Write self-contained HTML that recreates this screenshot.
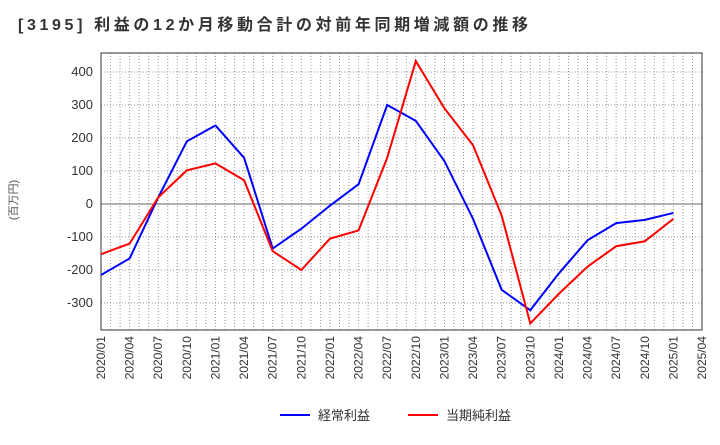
<!DOCTYPE html>
<html><head><meta charset="utf-8"><style>
body{margin:0;background:#fff;font-family:"Liberation Sans","Noto Sans CJK JP",sans-serif}
</style></head><body>
<svg id="c" width="720" height="440" xmlns="http://www.w3.org/2000/svg">
<text x="18" y="30" font-size="16" font-weight="bold" fill="#333" textLength="510" lengthAdjust="spacing">[3195]  利益の12か月移動合計の対前年同期増減額の推移</text>
<text transform="translate(17,200) rotate(-90)" font-size="11" fill="#555" text-anchor="middle">(百万円)</text>
<g id="grid"></g><g id="axes"></g><g id="series"></g>
<g>
<line x1="280" y1="415" x2="310" y2="415" stroke="#0000ff" stroke-width="2"/>
<text x="318" y="420" font-size="13" fill="#333">経常利益</text>
<line x1="408" y1="415" x2="438" y2="415" stroke="#ff0000" stroke-width="2"/>
<text x="446" y="420" font-size="13" fill="#333">当期純利益</text>
</g>
</svg>
<script>
const categories=["2020/01","2020/04","2020/07","2020/10","2021/01","2021/04","2021/07","2021/10","2022/01","2022/04","2022/07","2022/10","2023/01","2023/04","2023/07","2023/10","2024/01","2024/04","2024/07","2024/10","2025/01"];
const xTickLabels=["2020/01","2020/04","2020/07","2020/10","2021/01","2021/04","2021/07","2021/10","2022/01","2022/04","2022/07","2022/10","2023/01","2023/04","2023/07","2023/10","2024/01","2024/04","2024/07","2024/10","2025/01","2025/04"];
const yTicks=[400,300,200,100,0,-100,-200,-300];
const ordinary=[-215,-165,20,190,238,140,-135,-75,-5,60,300,252,130,-45,-260,-322,-210,-110,-58,-48,-27];
const net=[-152,-120,20,102,123,72,-143,-200,-105,-80,140,433,290,178,-35,-362,-272,-190,-128,-113,-45];
const NS="http://www.w3.org/2000/svg";
const L=101,R=702,T=53,B=330;
const x=i=>L+i*(R-L)/21;
const y=v=>204-v*0.33;
function mk(t,a,p){const e=document.createElementNS(NS,t);for(const k in a)e.setAttribute(k,a[k]);p.appendChild(e);return e;}
const g=document.getElementById('grid'),ax=document.getElementById('axes'),s=document.getElementById('series');
for(let m=1;m<63;m++){const xx=L+m*(R-L)/63;const ln=mk('line',{x1:xx,x2:xx,y1:T,y2:B,stroke:'#999','stroke-dasharray':'1,2','stroke-width':1},g);

}
yTicks.forEach(v=>{const ln=mk('line',{x1:L,x2:R,y1:y(v),y2:y(v),stroke:v===0?'#666':'#999','stroke-dasharray':v===0?'':'1,2','stroke-width':1},g);


const t=mk('text',{x:L-8,y:y(v)+4,'font-size':13,fill:'#333','text-anchor':'end'},ax);t.textContent=v;

});
xTickLabels.forEach((c,i)=>{const xx=x(i);const t=mk('text',{transform:`translate(${xx+4},${B+6}) rotate(-90)`,'font-size':12,fill:'#333','text-anchor':'end'},ax);t.textContent=c;

});
const fr=mk('rect',{x:L,y:T,width:R-L,height:B-T,fill:'none',stroke:'#333','stroke-width':1},ax);


function line(d,col,name){const p=mk('polyline',{points:d.map((v,i)=>x(i)+','+y(v)).join(' '),fill:'none',stroke:col,'stroke-width':2},s);

}
line(ordinary,'#0000ff','ordinary-profit-line');
line(net,'#ff0000','net-profit-line');
</script>
</body></html>
